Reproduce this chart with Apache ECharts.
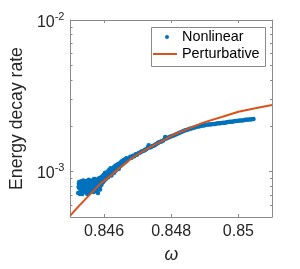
<!DOCTYPE html>
<html>
<head>
<meta charset="utf-8">
<script src="https://cdn.jsdelivr.net/npm/echarts@6/dist/echarts.min.js"></script>
<style>
html,body{margin:0;padding:0;background:#fff;}
#c{width:300px;height:269px;}
</style>
</head>
<body>
<div id="c"></div>
<script>
// ---- data ----
const omegaNL = [
0.84523,0.84525,0.84527,0.84529,0.84531,0.84533,0.84535,0.84537,0.84539,0.84541,0.84543,0.84545,0.84547,0.84549,0.84551,0.84553,0.84555,0.84557,0.84559,0.84561,0.84563,0.84565,0.84567,0.84569,0.84571,0.84573,0.84575,0.84577,0.84579,0.84581,0.84583,0.84585,0.84587,0.84589,0.84591,
0.84524,0.84528,0.84532,0.84536,0.84540,0.84544,0.84548,0.84552,0.84556,0.84560,0.84564,0.84568,0.84572,0.84576,0.84580,0.84584,0.84588,
0.84526,0.84530,0.84534,0.84538,0.84542,0.84546,0.84550,0.84554,0.84558,0.84562,0.84566,0.84570,0.84574,0.84578,0.84582,0.84586,0.84590,
0.84593,0.84595,0.84597,0.84599,0.84601,0.84603,0.84605,0.84607,0.84609,0.84611,0.84613,0.84615,0.84617,0.84619,0.84621,0.84623,0.84625,
0.84594,0.84598,0.84602,0.84606,0.84610,0.84614,0.84618,0.84622,
0.84628,0.84630,0.84632,0.84634,0.84636,0.84638,0.84640,0.84642,0.84644,0.84646,0.84648,0.84650,0.84652,0.84654,0.84656,0.84658,0.84660,0.84662,0.84664,0.84666,0.84668,0.84670,
0.84631,0.84635,0.84639,0.84643,0.84647,0.84651,0.84655,0.84659,0.84663,0.84667,
0.84674,0.84678,0.84682,0.84686,0.84690,0.84694,0.84698,0.84702,0.84706,0.84710,0.84714,0.84718,0.84722,0.84726,0.84730,0.84733,0.84736,0.84740,0.84744,0.84748,0.84752,0.84756,0.84760,0.84764,0.84768,0.84772,0.84776,0.84780,0.84782,0.84785,0.84790,0.84795,0.84800,
0.84805,0.84810,0.84815,0.84820,0.84825,0.84830,0.84835,0.84840,0.84845,0.84850,0.84855,0.84860,0.84865,0.84870,0.84875,0.84880,0.84885,0.84890,0.84895,0.84900,0.84905,0.84910,0.84915,0.84920,0.84925,0.84930,0.84935,0.84940,0.84945,0.84950,0.84955,0.84960,0.84965,0.84970,0.84975,0.84980,0.84985,0.84990,0.84995,0.85000,0.85005,0.85010,0.85015,0.85020,0.85025,0.85030,0.85035,0.85040,0.85045
];
const rateNL = [
7.2e-4,8.3e-4,7.7e-4,8.5e-4,7.4e-4,8.0e-4,7.1e-4,8.4e-4,7.6e-4,8.2e-4,7.3e-4,8.6e-4,7.8e-4,8.1e-4,7.2e-4,8.5e-4,7.5e-4,8.3e-4,7.9e-4,8.7e-4,7.4e-4,8.2e-4,7.6e-4,8.6e-4,7.8e-4,8.9e-4,7.5e-4,8.4e-4,8.0e-4,8.8e-4,7.7e-4,9.0e-4,7.9e-4,8.5e-4,8.1e-4,
7.9e-4,7.1e-4,8.6e-4,7.9e-4,8.4e-4,7.5e-4,8.6e-4,7.9e-4,7.2e-4,8.0e-4,8.5e-4,7.3e-4,8.2e-4,7.7e-4,8.3e-4,8.6e-4,7.6e-4,
8.5e-4,7.7e-4,7.3e-4,8.7e-4,7.6e-4,8.2e-4,7.1e-4,8.8e-4,7.4e-4,8.2e-4,7.8e-4,8.9e-4,7.4e-4,8.6e-4,7.2e-4,8.8e-4,9.1e-4,
8.3e-4,9.3e-4,8.5e-4,9.5e-4,8.7e-4,9.8e-4,8.9e-4,9.4e-4,9.1e-4,1.0e-3,9.2e-4,1.02e-3,9.5e-4,1.05e-3,9.6e-4,1.03e-3,9.9e-4,
8.9e-4,9.0e-4,9.3e-4,9.6e-4,9.5e-4,9.8e-4,1.0e-3,9.4e-4,
1.06e-3,9.8e-4,1.08e-3,1.01e-3,1.10e-3,1.03e-3,1.07e-3,1.12e-3,1.04e-3,1.13e-3,1.08e-3,1.15e-3,1.10e-3,1.17e-3,1.12e-3,1.19e-3,1.14e-3,1.20e-3,1.16e-3,1.22e-3,1.18e-3,1.21e-3,
1.02e-3,1.05e-3,1.09e-3,1.07e-3,1.10e-3,1.12e-3,1.15e-3,1.17e-3,1.19e-3,1.20e-3,
1.22e-3,1.25e-3,1.23e-3,1.27e-3,1.26e-3,1.30e-3,1.29e-3,1.32e-3,1.33e-3,1.35e-3,1.36e-3,1.37e-3,1.39e-3,1.40e-3,1.44e-3,1.49e-3,1.44e-3,1.45e-3,1.47e-3,1.48e-3,1.50e-3,1.52e-3,1.54e-3,1.56e-3,1.57e-3,1.58e-3,1.60e-3,1.63e-3,1.69e-3,1.65e-3,1.67e-3,1.69e-3,1.71e-3,
1.72e-3,1.74e-3,1.76e-3,1.78e-3,1.80e-3,1.82e-3,1.84e-3,1.86e-3,1.88e-3,1.89e-3,1.91e-3,1.92e-3,1.94e-3,1.95e-3,1.97e-3,1.98e-3,1.99e-3,2.00e-3,2.01e-3,2.02e-3,2.03e-3,2.04e-3,2.04e-3,2.05e-3,2.06e-3,2.06e-3,2.07e-3,2.08e-3,2.08e-3,2.09e-3,2.10e-3,2.10e-3,2.11e-3,2.12e-3,2.13e-3,2.13e-3,2.14e-3,2.15e-3,2.15e-3,2.16e-3,2.17e-3,2.17e-3,2.18e-3,2.19e-3,2.19e-3,2.20e-3,2.20e-3,2.21e-3,2.22e-3
];
const omegaPT = [0.845, 0.84526, 0.84557, 0.84591, 0.8462, 0.8464, 0.84688, 0.84733, 0.84782, 0.8481, 0.8485, 0.84895, 0.8495, 0.85, 0.8505, 0.851];
const ratePT  = [5.13e-4, 5.94e-4, 7.0e-4, 8.37e-4, 9.4e-4, 1.03e-3, 1.25e-3, 1.43e-3, 1.63e-3, 1.76e-3, 1.91e-3, 2.10e-3, 2.29e-3, 2.48e-3, 2.61e-3, 2.75e-3];
const xTicks = [0.846, 0.848, 0.85];
const yMajorTicks = [1e-3, 1e-2];
const yMinorTicks = [6e-4, 7e-4, 8e-4, 9e-4, 2e-3, 3e-3, 4e-3, 5e-3, 6e-3, 7e-3, 8e-3, 9e-3];
const seriesNames = ['Nonlinear', 'Perturbative'];

// ---- chart ----
const FONT = 'Liberation Sans, Arial, Helvetica, sans-serif';
const AX = '#8a8a8a';
const TXT = '#262626';
const BLUE = '#0072BD';
const ORANGE = '#D95319';
const XMIN = 0.845, XMAX = 0.851, YMIN = 5e-4, YMAX = 1e-2;

const nlData = omegaNL.map((x, i) => [x, rateNL[i]]);
const ptData = omegaPT.map((x, i) => [x, ratePT[i]]);

function yAxisBase(pos, ticks, len, showLine) {
  return {
    type: 'log', logBase: 10, min: YMIN, max: YMAX, position: pos,
    axisLine: {show: showLine, onZero: false, lineStyle: {color: AX, width: 1}},
    axisTick: {show: true, inside: true, length: len, customValues: ticks, lineStyle: {color: AX, width: 1}},
    axisLabel: {show: false},
    splitLine: {show: false}, minorTick: {show: false}
  };
}

const chart = echarts.init(document.getElementById('c'), null, {renderer: 'canvas'});
const yMain = yAxisBase('left', yMajorTicks, 3, true);
yMain.axisLabel = {
  show: true, customValues: yMajorTicks, margin: 6, color: TXT, fontFamily: FONT,
  formatter: function (v) { return '{b|10}{s|' + Math.round(Math.log10(v)) + '}'; },
  rich: {
    b: {fontSize: 16, fontFamily: FONT, color: TXT, padding: [5, 0, 0, 0]},
    s: {fontSize: 11, fontFamily: FONT, color: TXT, padding: [0, 0, 6, 0]}
  }
};
yMain.name = 'Energy decay rate';
yMain.nameLocation = 'middle';
yMain.nameGap = 42;
yMain.nameTextStyle = {fontSize: 17.6, color: TXT, fontFamily: FONT};

function xAxisBase(pos) {
  return {
    type: 'value', min: XMIN, max: XMAX, position: pos,
    axisLine: {show: true, onZero: false, lineStyle: {color: AX, width: 1}},
    axisTick: {show: true, inside: true, length: 3, customValues: xTicks, lineStyle: {color: AX, width: 1}},
    axisLabel: {show: false}, splitLine: {show: false}
  };
}
const xMain = xAxisBase('bottom');
xMain.axisLabel = {show: true, customValues: xTicks, margin: 7, fontSize: 16, color: TXT, fontFamily: FONT,
  formatter: function (v) { return String(v); }};
xMain.name = 'ω';
xMain.nameLocation = 'middle';
xMain.nameGap = 29;
xMain.nameTextStyle = {fontSize: 17.6, color: TXT, fontFamily: FONT, fontStyle: 'italic'};

chart.setOption({
  backgroundColor: '#ffffff',
  animation: false,
  grid: {left: 60, right: 28, top: 20, bottom: 47, containLabel: false},
  xAxis: [xMain, xAxisBase('top')],
  yAxis: [yMain, yAxisBase('left', yMinorTicks, 2, false), yAxisBase('right', yMajorTicks, 3, true), yAxisBase('right', yMinorTicks, 2, false)],
  legend: [
    {data: [{name: seriesNames[0], icon: 'circle'}], orient: 'vertical', left: 165, top: 30, padding: 0,
     itemWidth: 4, itemHeight: 4, textStyle: {fontSize: 14.4, color: '#000', fontFamily: FONT, padding: [0, 0, 0, 8]}},
    {data: [{name: seriesNames[1], icon: 'rect'}], orient: 'vertical', left: 153, top: 47, padding: 0,
     itemWidth: 24, itemHeight: 2, textStyle: {fontSize: 14.4, color: '#000', fontFamily: FONT}}
  ],
  graphic: [{type: 'rect', left: 151, top: 27, z: 3, shape: {width: 114, height: 39},
    style: {fill: '#fff', stroke: AX, lineWidth: 1}}],
  series: [
    {name: seriesNames[0], type: 'scatter', xAxisIndex: 0, yAxisIndex: 0, data: nlData,
     symbol: 'circle', symbolSize: 4.5, itemStyle: {color: BLUE, opacity: 1}, z: 2},
    {name: seriesNames[1], type: 'line', xAxisIndex: 0, yAxisIndex: 0, data: ptData,
     symbol: 'none', lineStyle: {color: ORANGE, width: 2}, itemStyle: {color: ORANGE}, z: 3}
  ]
});
</script>
</body>
</html>
